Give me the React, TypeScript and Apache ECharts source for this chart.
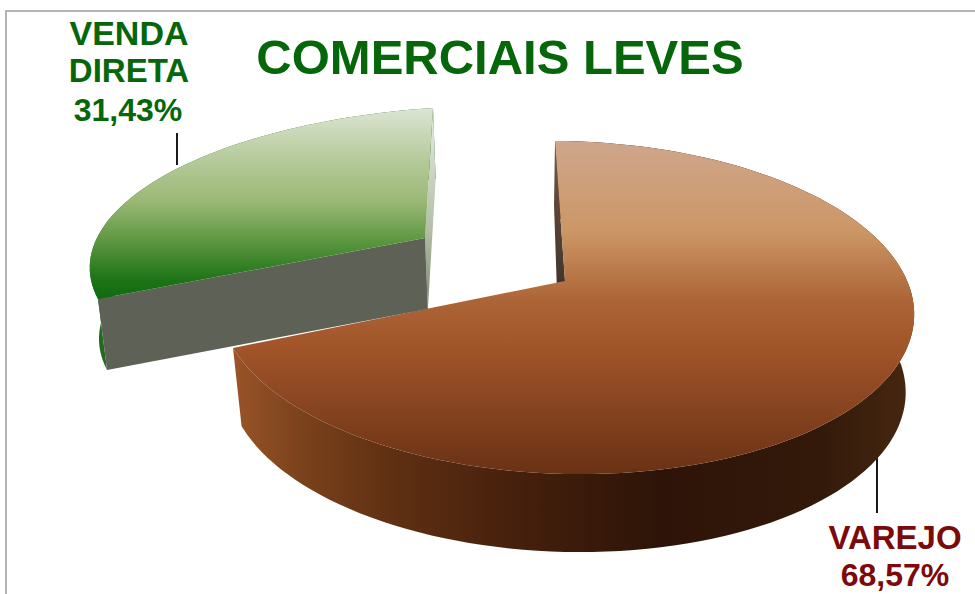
import React, { useEffect, useRef } from "react";
import * as echarts from "echarts";

const categories = ["VAREJO", "VENDA DIRETA"];
const shares = [68.57, 31.43];
const titleText = "COMERCIAIS LEVES";

type P = [number, number];

function solveH(src: P[], dst: P[]): number[] {
  const A: number[][] = [];
  src.forEach(([u, v], i) => {
    const [x, y] = dst[i];
    A.push([u, v, 1, 0, 0, 0, -u * x, -v * x, x]);
    A.push([0, 0, 0, u, v, 1, -u * y, -v * y, y]);
  });
  for (let c = 0; c < 8; c++) {
    let p = c;
    for (let r = c + 1; r < 8; r++) if (Math.abs(A[r][c]) > Math.abs(A[p][c])) p = r;
    [A[c], A[p]] = [A[p], A[c]];
    for (let r = 0; r < 8; r++) {
      if (r === c) continue;
      const f = A[r][c] / A[c][c];
      for (let k = c; k < 9; k++) A[r][k] -= f * A[c][k];
    }
  }
  return A.map((row, i) => row[8] / row[i]);
}
const circ = (deg: number): P => {
  const a = (deg * Math.PI) / 180;
  return [Math.sin(a), -Math.cos(a)];
};
const project = (h: number[], [u, v]: P): P => {
  const w = h[6] * u + h[7] * v + 1;
  return [(h[0] * u + h[1] * v + h[2]) / w, (h[3] * u + h[4] * v + h[5]) / w];
};
const grad = (x0: number, y0: number, x1: number, y1: number, stops: [number, string][]) =>
  new echarts.graphic.LinearGradient(
    x0, y0, x1, y1,
    stops.map(([offset, color]) => ({ offset, color })),
    true
  );

const toDeg = (v: number) => (v / 100) * 360;

const renderSlice = (params: any, api: any) => {
  const i = params.dataIndex;
  const before = shares.slice(0, i).reduce((a, b) => a + b, 0);
  const start = toDeg(before);
  const end = start + toDeg(api.value(0));
  const arc = (h: number[]) => {
    const pts: P[] = [];
    for (let a = start; a < end; a += 2) pts.push(project(h, circ(a)));
    pts.push(project(h, circ(end)));
    return pts;
  };
  if (i === 0) {
    const h = solveH(
      [[0, 0], circ(start), circ(end), circ(103)],
      [[565, 281], [555, 141], [233, 348], [914, 320]]
    );
    const down = ([x, y]: P): P => [575 + (x - 575) * 0.975, y + 78];
    const top = arc(h);
    const apex: P = project(h, [0, 0]);
    return {
      type: "group",
      children: [
        {
          type: "polygon",
          shape: { points: [...top, ...top.map(down).reverse()] },
          style: {
            fill: grad(233, 0, 915, 0, [
              [0, "#9a5428"], [0.1, "#7a421c"], [0.24, "#5e2f12"], [0.42, "#45200c"],
              [0.62, "#2e1408"], [0.86, "#33190a"], [1, "#472810"],
            ]),
          },
        },
        {
          type: "polygon",
          shape: { points: [top[0], [554, 205], [559, 350], apex] },
          style: { fill: grad(0, 141, 0, 285, [[0, "#6e5a4c"], [0.5, "#5a4436"], [1, "#42352c"]]) },
        },
        {
          type: "polygon",
          shape: { points: [apex, ...top] },
          style: {
            fill: grad(0, 141, 0, 472, [
              [0, "#cfa68c"], [0.27, "#cc9766"], [0.48, "#ad6537"], [0.63, "#a05428"],
              [0.78, "#8b4622"], [1, "#6a3214"],
            ]),
          },
        },
      ],
    };
  }
  const h = solveH(
    [[0, 0], circ(start), circ(end), circ(start + 25)],
    [[425, 238], [98, 299], [433, 108], [96, 240]]
  );
  const down = ([x, y]: P): P => [575 + (x - 575) * 0.981, y + 71];
  const top = arc(h);
  const apex = project(h, [0, 0]);
  const corner = top[0];
  const far = top[top.length - 1];
  return {
    type: "group",
    children: [
      {
        type: "polygon",
        shape: { points: [...top, ...top.map(down).reverse()] },
        style: { fill: "#1f6b1f" },
      },
      {
        type: "polygon",
        shape: { points: [far, down(far), down(apex), apex] },
        style: { fill: grad(0, 108, 0, 306, [[0, "#e6ecdf"], [0.6, "#b4c0a8"], [1, "#7c8a70"]]) },
      },
      {
        type: "polygon",
        shape: { points: [corner, apex, down(apex), down(corner)] },
        style: { fill: "#5e6256" },
      },
      {
        type: "polygon",
        shape: { points: [apex, ...top] },
        style: {
          fill: grad(0, 108, 0, 300, [
            [0, "#dbe5d2"], [0.3, "#b1c795"], [0.48, "#9cb977"], [0.69, "#5d9740"],
            [0.9, "#1c7316"], [1, "#0e6a0e"],
          ]),
        },
      },
    ],
  };
};

const pct = (v: number) => v.toFixed(2).replace(".", ",") + "%";
const leaf = (x: number, y: number, text: string, fill: string, fontSize = 33) => ({
  type: "text",
  x,
  y,
  silent: true,
  style: {
    fontFamily: "Liberation Sans",
    fontWeight: "bold",
    fontSize,
    text,
    fill,
    textAlign: "center",
    textVerticalAlign: "middle",
  },
});
const lead = (x: number, y1: number, y2: number) => ({
  type: "line",
  silent: true,
  shape: { x1: x, y1, x2: x, y2 },
  style: { stroke: "#1a1a1a", lineWidth: 2 },
});

export default function App() {
  const ref = useRef<HTMLDivElement>(null);
  useEffect(() => {
    const chart = echarts.init(ref.current!, null, { renderer: "svg" });
    const [direta1, direta2] = categories[1].split(" ");
    chart.setOption({
      animation: false,
      backgroundColor: "#ffffff",
      title: {
        text: titleText,
        left: 495,
        top: 27,
        textAlign: "center",
        textStyle: { fontFamily: "Liberation Sans", fontWeight: "bold", fontSize: 49, color: "#06660a" },
      },
      graphic: [
        {
          type: "rect",
          silent: true,
          shape: { x: 6, y: 11, width: 1000, height: 620 },
          style: { fill: "transparent", stroke: "#b4b4b4", lineWidth: 2 },
        },
        lead(177, 133, 165),
        lead(877, 455, 513),
        leaf(129, 33, direta1, "#06660a", 34),
        leaf(129, 70, direta2, "#06660a", 33),
        leaf(128, 110, pct(shares[1]), "#06660a", 32),
        leaf(895, 537, categories[0], "#7d0a0a", 33),
        leaf(895, 575, pct(shares[0]), "#7d0a0a", 32),
      ],
      series: [
        {
          type: "custom",
          coordinateSystem: "none",
          silent: true,
          renderItem: renderSlice,
          data: shares.map((v) => [v]),
          encode: { value: 0 },
        },
      ],
    });
    return () => chart.dispose();
  }, []);
  return (
    <div
      ref={ref}
      style={{ position: "absolute", left: 0, top: 0, width: 975, height: 594 }}
    />
  );
}
